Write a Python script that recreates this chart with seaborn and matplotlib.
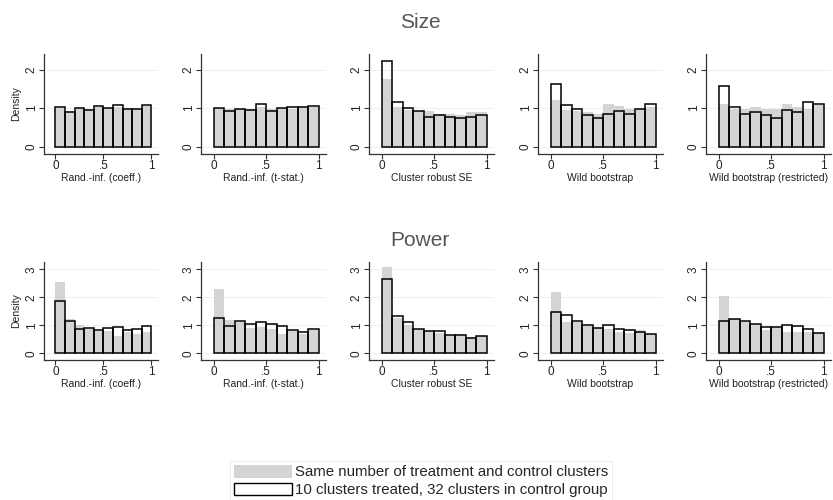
import numpy as np
import pandas as pd
import matplotlib
matplotlib.use("Agg")
import matplotlib.pyplot as plt
import seaborn as sns
from matplotlib.patches import Patch

sns.set_style("white")
plt.rcParams['font.family'] = ['Liberation Sans', 'DejaVu Sans']

methods = ["Rand.-inf. (coeff.)", "Rand.-inf. (t-stat.)", "Cluster robust SE",
           "Wild bootstrap", "Wild bootstrap (restricted)"]
bin_edges = [0, .1, .2, .3, .4, .5, .6, .7, .8, .9, 1.0]
bin_mid = [.05, .15, .25, .35, .45, .55, .65, .75, .85, .95]
series_names = ["Same number of treatment and control clusters",
                "10 clusters treated, 32 clusters in control group"]

# Size: balanced (gray) and unbalanced (outline) densities per p-value bin
size_same = [
    [1.00, 0.92, 0.98, 0.97, 1.02, 1.00, 1.03, 0.98, 1.00, 1.05],
    [1.00, 0.97, 0.98, 0.97, 1.02, 0.99, 1.00, 0.98, 1.02, 1.04],
    [1.77, 1.02, 0.96, 0.92, 0.93, 0.86, 0.86, 0.83, 0.89, 0.89],
    [1.21, 0.95, 0.92, 0.90, 0.84, 1.10, 1.05, 0.99, 0.98, 1.02],
    [1.12, 0.98, 0.97, 1.02, 0.97, 0.98, 1.10, 1.02, 0.98, 1.08],
]
size_10 = [
    [1.03, 0.89, 1.00, 0.96, 1.05, 1.00, 1.07, 0.97, 0.98, 1.09],
    [1.00, 0.93, 0.97, 0.95, 1.10, 0.93, 1.00, 1.02, 1.03, 1.06],
    [2.23, 1.15, 1.00, 0.92, 0.78, 0.83, 0.76, 0.74, 0.78, 0.81],
    [1.64, 1.07, 0.98, 0.83, 0.75, 0.84, 0.93, 0.84, 0.98, 1.10],
    [1.57, 1.02, 0.84, 0.90, 0.81, 0.74, 0.94, 0.89, 1.17, 1.12],
]
# Power
power_same = [
    [2.56, 1.24, 1.01, 0.86, 0.81, 0.80, 0.63, 0.77, 0.68, 0.76],
    [2.29, 1.19, 1.12, 0.92, 0.94, 0.85, 0.68, 0.80, 0.68, 0.83],
    [3.08, 1.25, 1.00, 0.85, 0.80, 0.72, 0.66, 0.68, 0.58, 0.63],
    [2.18, 1.13, 1.12, 0.96, 0.89, 0.87, 0.76, 0.74, 0.82, 0.70],
    [2.05, 1.21, 1.10, 1.04, 0.83, 0.93, 0.77, 0.75, 0.77, 0.71],
]
power_10 = [
    [1.87, 1.14, 0.86, 0.89, 0.83, 0.90, 0.93, 0.82, 0.87, 0.99],
    [1.27, 0.96, 1.14, 1.06, 1.11, 1.05, 0.99, 0.82, 0.77, 0.88],
    [2.65, 1.32, 1.10, 0.86, 0.81, 0.81, 0.64, 0.65, 0.56, 0.61],
    [1.46, 1.35, 1.14, 1.01, 0.89, 1.01, 0.86, 0.82, 0.77, 0.70],
    [1.15, 1.21, 1.14, 1.05, 0.93, 0.93, 1.00, 0.96, 0.87, 0.74],
]

GRAY = "#d4d4d4"
W, H = 833, 500
fig = plt.figure(figsize=(W / 100, H / 100), dpi=100)

cols = [(44, 158), (201, 326), (369, 494), (538, 663), (706, 831)]
rows = [dict(top=53.5, bot=154, ylim=(-0.19, 2.42), yt=[0, 1, 2], same=size_same, ten=size_10),
        dict(top=262, bot=360, ylim=(-0.24, 3.26), yt=[0, 1, 2, 3], same=power_same, ten=power_10)]

for r, row in enumerate(rows):
    for c, (l, rr) in enumerate(cols):
        ax = fig.add_axes([l / W, 1 - row["bot"] / H, (rr - l) / W, (row["bot"] - row["top"]) / H])
        df = pd.DataFrame({"p": bin_mid, "same": row["same"][c], "ten": row["ten"][c]})
        for yv in row["yt"]:
            ax.axhline(yv, color="#eef2f2", lw=0.9, zorder=0)
        sns.histplot(data=df, x="p", weights="same", bins=bin_edges, stat="count",
                     color=GRAY, alpha=1, linewidth=0, element="bars", fill=True, ax=ax, zorder=2)
        sns.histplot(data=df, x="p", weights="ten", bins=bin_edges, stat="count",
                     fill=False, color="black", linewidth=1.1, element="bars", ax=ax, zorder=3)
        ax.set_xlim(-0.12, 1.07)
        ax.set_ylim(*row["ylim"])
        ax.set_xticks([0, .5, 1])
        ax.set_xticklabels(["0", ".5", "1"])
        ax.set_yticks(row["yt"])
        ax.set_yticklabels([str(v) for v in row["yt"]], rotation=90, va="center")
        ax.tick_params(axis="both", direction="out", length=3.5, width=0.8, color="#333333",
                       labelsize=8.5, pad=1, labelcolor="#222222")
        ax.tick_params(axis="both", which="both", bottom=True, left=True)
        for s in ["top", "right"]:
            ax.spines[s].set_visible(False)
        for s in ["left", "bottom"]:
            ax.spines[s].set_color("#333333")
            ax.spines[s].set_linewidth(0.9)
        ax.set_xlabel(methods[c], fontsize=7.5, labelpad=0.5, color="#222222")
        ax.set_ylabel("Density" if c == 0 else "", fontsize=7.5, labelpad=3, color="#222222")
        ax.grid(False)

fig.text(420 / W, 1 - 23 / H, "Size", ha="center", va="center", fontsize=15, color="#555555")
fig.text(420 / W, 1 - 241 / H, "Power", ha="center", va="center", fontsize=15, color="#555555")

handles = [Patch(facecolor=GRAY, edgecolor="none"),
           Patch(facecolor="white", edgecolor="black", linewidth=1.0)]
leg = fig.legend(handles, series_names, loc="center", bbox_to_anchor=(421 / W, 1 - 481 / H),
                 fontsize=10.8, frameon=True, handlelength=3.9, handleheight=0.9,
                 handletextpad=0.2, labelspacing=0.2, borderpad=0.25, borderaxespad=0)
leg.get_frame().set_edgecolor("#e8e8e8")
leg.get_frame().set_linewidth(0.8)
leg.get_frame().set_boxstyle("square", pad=0)

fig.savefig("out.png", dpi=100)
